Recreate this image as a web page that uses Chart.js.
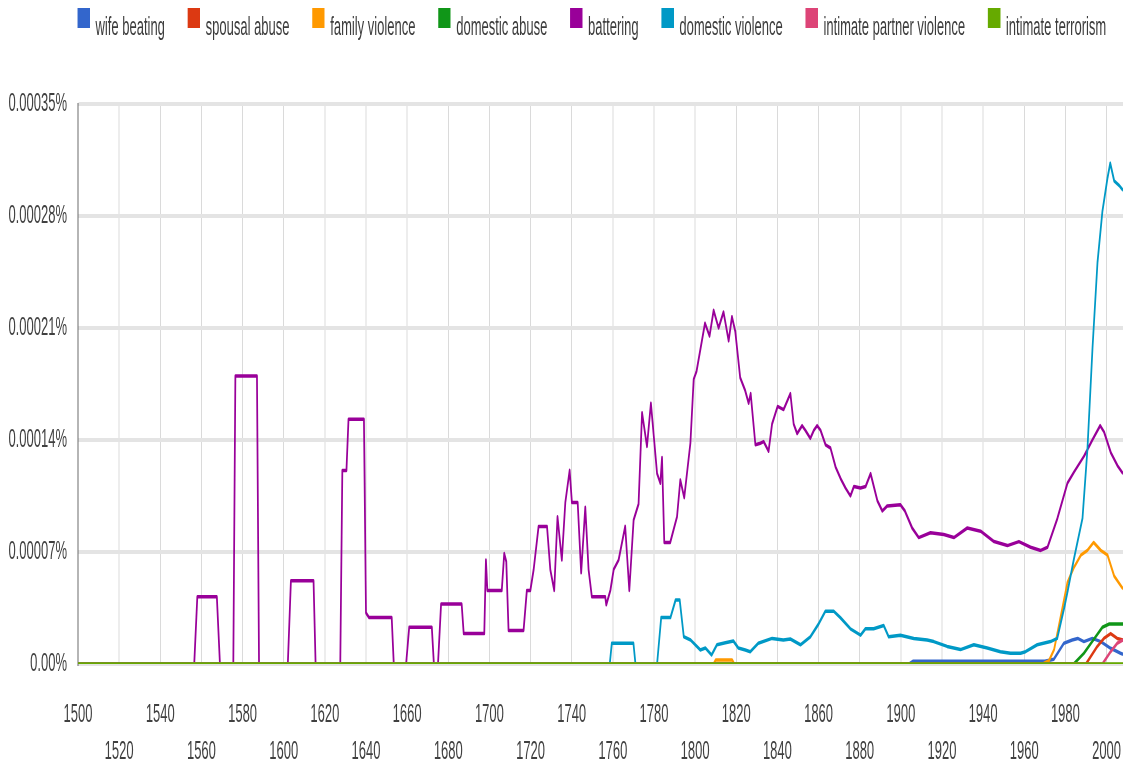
<!DOCTYPE html>
<html>
<head>
<meta charset="utf-8">
<title>Ngram: battering, domestic violence and related terms, 1500-2008</title>
<script src="https://cdn.jsdelivr.net/npm/chart.js@4.4.1/dist/chart.umd.min.js"></script>
<style>
  html, body { margin: 0; padding: 0; background: #fff; overflow: hidden; }
  #ngram { display: block; }
</style>
</head>
<body>
<!-- the reference is squeezed 2:1 horizontally, so draw wide and squeeze it with css -->
<canvas id="ngram" width="2246" height="773" style="width:1123px;height:773px"></canvas>
<script>
const seriesNames = ['wife beating', 'spousal abuse', 'family violence', 'domestic abuse',
  'battering', 'domestic violence', 'intimate partner violence', 'intimate terrorism'];
const seriesColors = ['#3366cc', '#dc3912', '#ff9900', '#109618',
  '#990099', '#0099c6', '#dd4477', '#66aa00'];

const xTickYears = [1500, 1520, 1540, 1560, 1580, 1600, 1620, 1640, 1660, 1680, 1700, 1720, 1740,
  1760, 1780, 1800, 1820, 1840, 1860, 1880, 1900, 1920, 1940, 1960, 1980, 2000];
const yTickValues = [0, 0.00007, 0.00014, 0.00021, 0.00028, 0.00035];
const yTickLabels = ['0.00%', '0.00007%', '0.00014%', '0.00021%', '0.00028%', '0.00035%'];

// [year, share in %]
const wifeBeating = [[1500, 0], [1904, 0], [1906, 0.0000017], [1970, 0.0000017], [1974.4, 0.000003],
  [1979.3, 0.000013], [1983.3, 0.000015], [1986, 0.000016], [1989, 0.000014], [1993.1, 0.000016],
  [1997.2, 0.000014], [2002, 0.0000098], [2006.8, 0.0000067], [2008, 0.000006]];

const spousalAbuse = [[1500, 0], [1990, 0], [1995.5, 0.000011], [1998.7, 0.000016], [2002, 0.000019],
  [2005.2, 0.000016], [2008, 0.000015]];

const familyViolence = [[1500, 0], [1809, 0], [1810, 0.0000025], [1818, 0.0000025], [1819, 0],
  [1969, 0], [1972, 0.000002], [1974.5, 0.000009], [1977, 0.000025], [1979, 0.000038],
  [1981, 0.000051], [1984, 0.00006], [1987.5, 0.000068], [1990.7, 0.000071], [1993.7, 0.000076],
  [1997.2, 0.000071], [2000.5, 0.000068], [2003.7, 0.000055], [2006.9, 0.000049], [2008, 0.000047]];

const domesticAbuse = [[1500, 0], [1984, 0], [1989, 0.0000067], [1993, 0.000014], [1998, 0.000023],
  [2001.3, 0.000025], [2008, 0.000025]];

const battering = [[1500, 0], [1556.5, 0], [1558, 0.000042], [1567.5, 0.000042], [1569, 0],
  [1575.5, 0], [1576.5, 0.00018], [1587, 0.00018], [1588, 0],
  [1602, 0], [1603.5, 0.000052], [1614.5, 0.000052], [1615.5, 0],
  [1627.5, 0], [1628.5, 0.000121], [1630.5, 0.000121], [1631.5, 0.000153], [1639, 0.000153],
  [1640, 0.000032], [1641.5, 0.000029], [1652.5, 0.000029], [1653.5, 0],
  [1659.5, 0], [1661, 0.000023], [1672, 0.000023], [1673, 0],
  [1675, 0], [1676.5, 0.0000375], [1686.5, 0.0000375], [1687.5, 0.000019], [1697.5, 0.000019],
  [1698.3, 0.000065], [1699, 0.000046], [1706, 0.000046], [1707.2, 0.000069], [1708.2, 0.000064],
  [1709.3, 0.000021], [1716.6, 0.000021], [1718.2, 0.000046], [1719.9, 0.000046], [1721.5, 0.000059],
  [1723.9, 0.000086], [1728, 0.000086], [1729.6, 0.000059], [1731.5, 0.000046], [1733.1, 0.000092],
  [1735.2, 0.000065], [1736.9, 0.000101], [1739, 0.000121], [1740.1, 0.000101], [1742.9, 0.000101],
  [1744.6, 0.000057], [1746.6, 0.000098], [1748.2, 0.000059], [1749.8, 0.000042], [1756.3, 0.000042],
  [1756.8, 0.000037], [1758.8, 0.000046], [1760.4, 0.000059], [1762.8, 0.000065], [1766, 0.000086],
  [1768, 0.000046], [1770.1, 0.00009], [1772.5, 0.0001], [1774.2, 0.000157], [1776.6, 0.000136],
  [1778.5, 0.000163], [1781.5, 0.000119], [1783.1, 0.000113], [1783.9, 0.000129], [1785, 0.000076],
  [1787.9, 0.000076], [1791.2, 0.000092], [1792.8, 0.000115], [1794.7, 0.000104], [1797.7, 0.000138],
  [1799.3, 0.000178], [1800.7, 0.000183], [1804.8, 0.000213], [1807, 0.000205], [1809, 0.000221],
  [1811.4, 0.00021], [1813.8, 0.00022], [1816.3, 0.000202], [1817.9, 0.000217], [1819.5, 0.000208],
  [1821.9, 0.000179], [1824.3, 0.000171], [1826, 0.000163], [1827, 0.000169], [1829.3, 0.000137],
  [1831.7, 0.000138], [1833.3, 0.000139], [1835.7, 0.000133], [1837.4, 0.00015], [1840.1, 0.000161],
  [1843, 0.000159], [1846.3, 0.000169], [1847.9, 0.00015], [1849.6, 0.000144], [1852, 0.000149],
  [1853.6, 0.000146], [1856, 0.000141], [1857.7, 0.000146], [1859.3, 0.000149], [1861, 0.000146],
  [1863.4, 0.000137], [1865.8, 0.000135], [1868.3, 0.000123], [1870.7, 0.000116], [1873.1, 0.00011],
  [1875.5, 0.000105], [1877.2, 0.000111], [1880.4, 0.00011], [1882.9, 0.000111], [1885.3, 0.000119],
  [1888.6, 0.000102], [1891, 0.0000956], [1893.4, 0.0000988], [1899.8, 0.0000995], [1902, 0.0000956],
  [1905.5, 0.000085], [1908.7, 0.000079], [1914.4, 0.000082], [1920.9, 0.000081], [1925.8, 0.000079],
  [1932.3, 0.000085], [1938.8, 0.000083], [1945.3, 0.0000765], [1951.8, 0.000074], [1957.4, 0.0000765],
  [1963.1, 0.000073], [1968, 0.000071], [1971.3, 0.000073], [1976.1, 0.000091], [1981, 0.000113],
  [1984.2, 0.00012], [1989.1, 0.00013], [1993.1, 0.00014], [1996.9, 0.000149], [1998.8, 0.000145],
  [2002.1, 0.000132], [2005.3, 0.000124], [2008, 0.000119]];

const domesticViolence = [[1500, 0], [1758.5, 0], [1759.5, 0.000013], [1770, 0.000013], [1771, 0],
  [1781.5, 0], [1783.5, 0.000029], [1788, 0.000029], [1790.5, 0.00004], [1792.5, 0.00004],
  [1794.5, 0.000017], [1797.8, 0.000015], [1802.5, 0.0000088], [1805, 0.00001], [1808, 0.0000056],
  [1810.6, 0.000012], [1814.7, 0.0000133], [1818.6, 0.0000144], [1821, 0.00001], [1824.4, 0.0000088],
  [1826.8, 0.0000077], [1830.7, 0.000013], [1837.4, 0.000016], [1842.9, 0.000015], [1846.3, 0.0000156],
  [1851.2, 0.000012], [1856, 0.000017], [1860, 0.000025], [1863.3, 0.000033], [1867.4, 0.000033],
  [1870.6, 0.000029], [1875.5, 0.000022], [1880.4, 0.000018], [1882.8, 0.000022], [1886.8, 0.000022],
  [1891.7, 0.000024], [1894.1, 0.000017], [1899.8, 0.000018], [1906.3, 0.000016], [1912.8, 0.000015],
  [1916, 0.000014], [1922.5, 0.000011], [1929, 0.000009], [1935.5, 0.000012], [1942, 0.00001],
  [1948.4, 0.0000077], [1953.3, 0.0000067], [1958.2, 0.0000067], [1960.6, 0.0000077], [1966.3, 0.000012],
  [1972.8, 0.000014], [1976, 0.000016], [1979.4, 0.000035], [1981, 0.000045], [1984.2, 0.000066],
  [1988.3, 0.000091], [1990.7, 0.000134], [1993.2, 0.000198], [1995.6, 0.000251], [1998, 0.000283],
  [2000.5, 0.000304], [2001.8, 0.000313], [2003.7, 0.000302], [2006.2, 0.000299], [2008, 0.000296]];

const intimatePartnerViolence = [[1500, 0], [1998, 0], [2002, 0.0000077], [2005.2, 0.000013],
  [2008, 0.000015]];

const intimateTerrorism = [[1500, 0], [2008, 0]];

const seriesPoints = [wifeBeating, spousalAbuse, familyViolence, domesticAbuse,
  battering, domesticViolence, intimatePartnerViolence, intimateTerrorism];

// legend swatch sits higher than the label text, as in the Ngram viewer
function legendSwatch(color) {
  const c = document.createElement('canvas');
  c.width = 39;
  c.height = 40;
  const g = c.getContext('2d');
  g.fillStyle = color;
  g.fillRect(14, 0, 25, 20);
  return c;
}

Chart.defaults.font.family = "'Liberation Sans', Arial, sans-serif";

const datasets = seriesNames.map((name, i) => ({
  label: name,
  data: seriesPoints[i].map(([year, share]) => ({ x: year, y: share })),
  borderColor: seriesColors[i],
  backgroundColor: seriesColors[i],
  borderWidth: 3.5,
  borderJoinStyle: 'round',
  pointRadius: 0,
  pointHoverRadius: 0,
  pointStyle: legendSwatch(seriesColors[i]),
  tension: 0,
  fill: false,
  order: seriesNames.length - 1 - i
}));

new Chart(document.getElementById('ngram'), {
  type: 'line',
  data: { datasets },
  options: {
    responsive: false,
    devicePixelRatio: 1,
    animation: false,
    events: [],
    layout: { padding: { top: -18.5, left: 0, right: 0, bottom: 0 } },
    plugins: {
      legend: {
        position: 'top',
        align: 'end',
        fullSize: true,
        weight: 3000,
        labels: {
          usePointStyle: true,
          pointStyleWidth: 35,
          padding: 33.5,
          color: '#3c3c3c',
          font: { size: 26 },
          sort: (a, b) => a.datasetIndex - b.datasetIndex
        }
      },
      // empty title only keeps the gap between legend and plot
      title: {
        display: true,
        text: '',
        padding: { top: 0, bottom: 43 },
        font: { size: 10, lineHeight: 1 }
      },
      tooltip: { enabled: false }
    },
    scales: {
      x: {
        type: 'linear',
        min: 1500,
        max: 2008,
        afterBuildTicks: (scale) => { scale.ticks = xTickYears.map((v) => ({ value: v })); },
        afterFit: (scale) => {
          scale.height = 109;
          scale.paddingLeft = 0;
          scale.paddingRight = 0;
        },
        grid: { color: '#dadada', lineWidth: 2, drawTicks: false },
        border: { display: false },
        ticks: {
          autoSkip: false,
          maxRotation: 0,
          minRotation: 0,
          padding: 32.5,
          color: '#404040',
          font: { size: 26, lineHeight: '37px' },
          callback: (value, index) => (index % 2 === 0 ? [String(xTickYears[index])] : ['', String(xTickYears[index])])
        }
      },
      y: {
        min: 0,
        max: 0.00035,
        afterBuildTicks: (scale) => { scale.ticks = yTickValues.map((v) => ({ value: v })); },
        afterFit: (scale) => { scale.width = 156; },
        grid: { color: '#e4e4e4', lineWidth: 4, drawTicks: false },
        border: { display: true, color: '#6a6a6a', width: 2 },
        ticks: {
          padding: 22,
          color: '#404040',
          font: { size: 26 },
          callback: (value, index) => yTickLabels[index]
        }
      }
    }
  }
});
</script>
</body>
</html>
